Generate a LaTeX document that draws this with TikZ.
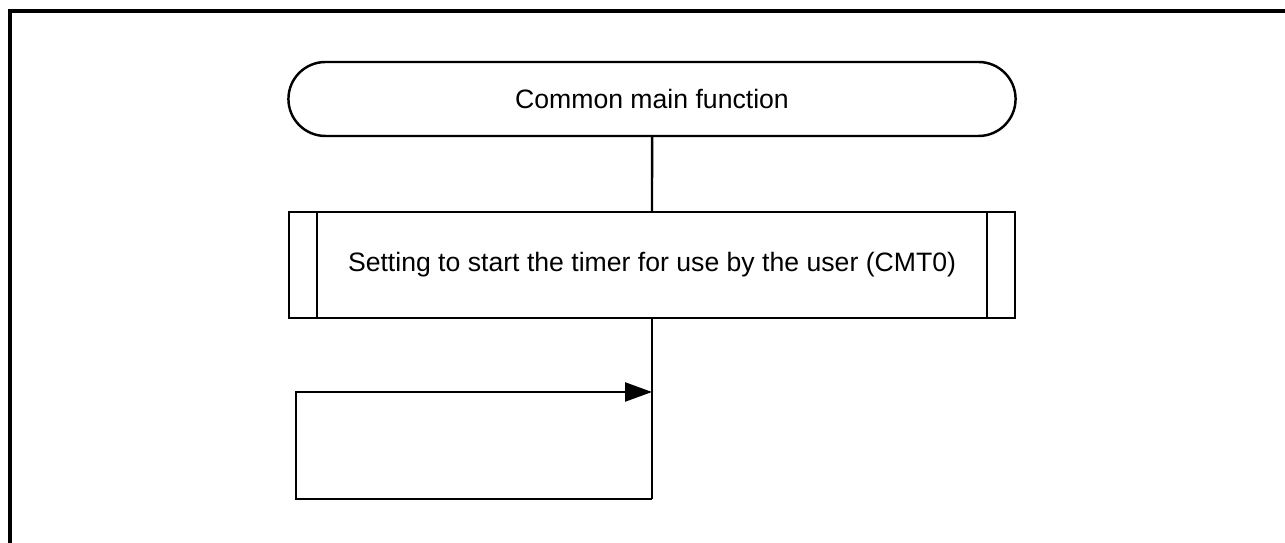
\documentclass[tikz,border=0pt]{standalone}
\usepackage{fontspec}
\setmainfont{Liberation Sans}
\usetikzlibrary{positioning, arrows.meta, shapes.misc}

\tikzset{
  terminal/.style={rounded rectangle, draw, line width=1.4pt,
    minimum width=14.78cm, minimum height=1.48cm, font=\fontsize{15.15}{18}\selectfont},
  predef/.style={rectangle, draw, line width=1.4pt,
    minimum width=14.52cm, minimum height=2.12cm, font=\fontsize{15.15}{18}\selectfont},
  flow/.style={line width=1.4pt}
}

\begin{document}
\begin{tikzpicture}[x=0.02cm, y=0.02cm]
  \useasboundingbox (0,0) rectangle (1285,543);

  % --- cadre de la page, coupe a droite et en bas -----------------------
  \draw[line width=2.3pt] (10,0) -- (10,532) -- (1285,532);

  % --- blocs ------------------------------------------------------------
  \node[terminal] (mainfn) at (652,444) {Common main function};
  \node[predef] (tmrstart) at (652,278)
       {Setting to start the timer for use by the user (CMT0)};
  \draw[flow] ([xshift=0.58cm]tmrstart.north west) -- ([xshift=0.58cm]tmrstart.south west);
  \draw[flow] ([xshift=-0.58cm]tmrstart.north east) -- ([xshift=-0.58cm]tmrstart.south east);

  % --- boucle infinie ---------------------------------------------------
  \coordinate (loopin) at (652,151);
  \coordinate (loopend) at (652,44);

  \draw[flow] (mainfn) -- (tmrstart);
  \draw[flow] (tmrstart) -- (loopend);
  \draw[flow, -{Triangle[length=0.54cm, width=0.38cm]}]
    (loopend) -- (296,44) -- (296,151) -- (loopin);
\end{tikzpicture}
\end{document}
